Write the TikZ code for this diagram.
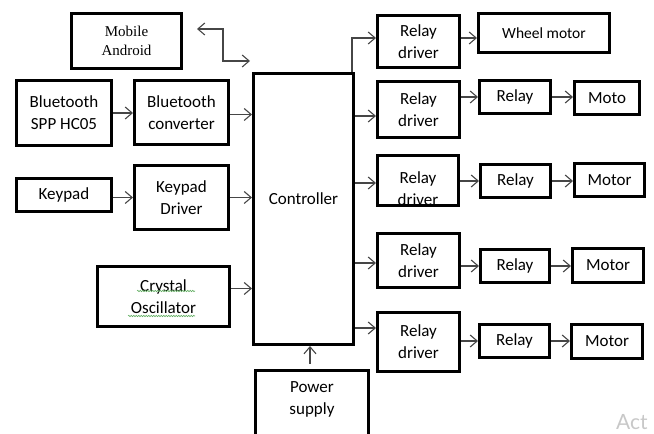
\documentclass[tikz,border=0pt]{standalone}
\usepackage{fontspec}
\setmainfont{Carlito}
\newfontfamily\mobfont{Liberation Serif}
\newfontfamily\markfont{Lato}
\usetikzlibrary{arrows.meta,calc,decorations.pathmorphing}
\definecolor{arrowgray}{RGB}{70,70,70}
\definecolor{spellgreen}{RGB}{100,175,100}
\definecolor{markgray}{RGB}{200,200,200}
\tikzset{
  txt/.style={align=center, font=\fontsize{17}{22}\selectfont},
  blk/.style={rectangle, draw=black, line width=3pt, inner sep=1pt, txt},
  arrow/.style={-{Straight Barb[length=7pt,width=12pt]}, line width=1.1pt, draw=arrowgray},
  dblarrow/.style={{Straight Barb[length=7pt,width=12pt]}-{Straight Barb[length=7pt,width=12pt]}, line width=1.1pt, draw=arrowgray},
  squiggle/.style={decorate, decoration={snake, amplitude=0.7pt, segment length=2.5pt}, draw=spellgreen, line width=0.6pt}
}
\begin{document}
\begin{tikzpicture}[x=1pt, y=1pt]
\useasboundingbox (0,0) rectangle (654,434);
% inputs
\node[blk, minimum width=110pt, minimum height=55pt, font=\mobfont\fontsize{15}{19}\selectfont] (mob) at (126.5,393) {Mobile\\Android};
\node[blk, minimum width=95pt, minimum height=65pt] (spp) at (64,321) {Bluetooth\\SPP HC05};
\node[blk, minimum width=94pt, minimum height=64pt] (btc) at (181.5,321.5) {Bluetooth\\converter};
\node[blk, minimum width=95pt, minimum height=33pt] (kp) at (64,239) {Keypad};
\node[blk, minimum width=94pt, minimum height=64pt] (kd) at (181.5,236.5) {Keypad\\Driver};
\node[blk, minimum width=132pt, minimum height=60pt] (xtal) at (163.5,137.5) {Crystal\\Oscillator};
% controller and supply
\node[blk, minimum width=100pt, minimum height=271pt, label={[txt, yshift=10pt]center:Controller}] (ctrl) at (303.5,225) {};
\node[blk, minimum width=113pt, minimum height=74pt, label={[txt, anchor=north, yshift=-9pt]north:{Power\\supply}}] (pwr) at (312,26.5) {};
% outputs
\node[blk, minimum width=82pt, minimum height=52pt] (rd1) at (418.5,392.5) {Relay\\driver};
\node[blk, minimum width=131pt, minimum height=39pt, font=\fontsize{15.5}{19}\selectfont] (whl) at (544,401) {Wheel motor};
\node[blk, minimum width=82pt, minimum height=56pt] (rd2) at (418.5,324.5) {Relay\\driver};
\node[blk, minimum width=71pt, minimum height=33pt] (rel2) at (515,337) {Relay};
\node[blk, minimum width=65pt, minimum height=33pt] (mot2) at (607,336) {Moto};
\node[blk, minimum width=81pt, minimum height=50pt, path picture={\node[txt] at ([yshift=-8pt]path picture bounding box.center) {Relay\\driver};}] (rd3) at (418,253.5) {};
\node[blk, minimum width=70pt, minimum height=33pt] (rel3) at (515.5,253) {Relay};
\node[blk, minimum width=70pt, minimum height=33pt] (mot3) at (609.5,254) {Motor};
\node[blk, minimum width=82pt, minimum height=54pt] (rd4) at (418.5,173.5) {Relay\\driver};
\node[blk, minimum width=69pt, minimum height=33pt] (rel4) at (515,168) {Relay};
\node[blk, minimum width=71pt, minimum height=34pt] (mot4) at (608,168.5) {Motor};
\node[blk, minimum width=82pt, minimum height=59pt] (rd5) at (418.5,92) {Relay\\driver};
\node[blk, minimum width=70pt, minimum height=33pt] (rel5) at (514.5,93) {Relay};
\node[blk, minimum width=71pt, minimum height=34pt] (mot5) at (607,92.5) {Motor};
\node[font=\markfont\fontsize{21}{25}\selectfont, text=markgray, anchor=base west, inner sep=0pt] (act) at (616,4) {Act};
% spelling marks
\draw[squiggle] ($(xtal.center)+(-26.5,5.5)$) -- ++(58,0);
\draw[squiggle] ($(xtal.center)+(-35.5,-19.5)$) -- ++(67,0);
% connectors
\coordinate (mobL) at (197,405);
\coordinate (mobR) at (250,373);
\draw[dblarrow] (mobL) -- ++(26,0) |- (mobR);
\draw[arrow] (spp.east) -- (spp.east -| btc.west);
\draw[arrow] ([yshift=-2pt]btc.east) -- ([yshift=-2pt]btc.east -| ctrl.west);
\draw[arrow] (kd.west -| kp.east) -- (kd.west);
\draw[arrow] (kd.east) -- (kd.east -| ctrl.west);
\draw[arrow] ([yshift=8pt]xtal.east) -- ([yshift=8pt]xtal.east -| ctrl.west);
\draw[arrow] ([xshift=-2pt,yshift=5pt]pwr.north) -- ([xshift=-2pt]pwr.north |- ctrl.south);
\draw[arrow] ([xshift=-3pt]ctrl.north east) |- ([yshift=3.5pt]rd1.west);
\draw[arrow] ([yshift=3.5pt]rd1.east) -- ([yshift=3.5pt]rd1.east -| whl.west);
\draw[arrow] ([yshift=-6.5pt]rd2.west -| ctrl.east) -- ([yshift=-6.5pt]rd2.west);
\draw[arrow] ([yshift=-2.5pt]rd3.west -| ctrl.east) -- ([yshift=-2.5pt]rd3.west);
\draw[arrow] ([yshift=-2.5pt]rd4.west -| ctrl.east) -- ([yshift=-2.5pt]rd4.west);
\draw[arrow] ([yshift=14pt]rd5.west -| ctrl.east) -- ([yshift=14pt]rd5.west);
\draw[arrow] (rel2.west -| rd2.east) -- (rel2.west);
\draw[arrow] (rel3.west -| rd3.east) -- (rel3.west);
\draw[arrow] (rel4.west -| rd4.east) -- (rel4.west);
\draw[arrow] (rel5.west -| rd5.east) -- (rel5.west);
\draw[arrow] (rel2.east) -- (rel2.east -| mot2.west);
\draw[arrow] (rel3.east) -- (rel3.east -| mot3.west);
\draw[arrow] (rel4.east) -- (rel4.east -| mot4.west);
\draw[arrow] (rel5.east) -- (rel5.east -| mot5.west);
\end{tikzpicture}
\end{document}
